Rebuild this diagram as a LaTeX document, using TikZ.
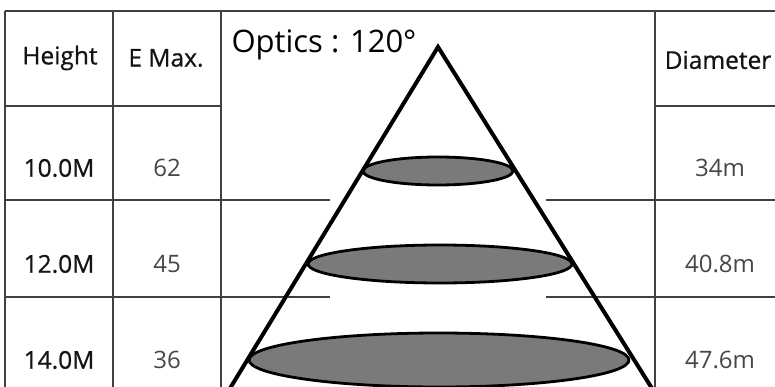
\documentclass[tikz,border=0pt]{standalone}
\usepackage{fontspec}
\setmainfont{Open Sans}
\usepackage{tikz}
\usetikzlibrary{positioning}

\begin{document}
\begin{tikzpicture}[
    x=1pt, y=-1pt,
    gridline/.style={draw=black!75, line width=1.3pt},
    beam/.style={draw=black, line width=4pt, line join=miter},
    spot/.style={draw=black, line width=2.8pt, fill=black!52},
    hdr/.style={font=\fontsize{24.5}{27}\selectfont\addfontfeature{FakeBold=0.8}, text=black!92},
    val/.style={font=\fontsize{24}{27}\selectfont, text=black!72}
]
\useasboundingbox (0,0) rectangle (775,387);
\clip (0,0) rectangle (775,387);

% table
\draw[gridline] (5,11) -- (775,11);
\draw[gridline] (5,11) -- (5,387);
\draw[gridline] (113,11) -- (113,387);
\draw[gridline] (221,11) -- (221,387);
\draw[gridline] (655,11) -- (655,387);
\draw[gridline] (5,106) -- (221,106);
\draw[gridline] (655,106) -- (775,106);
\draw[gridline] (5,200) -- (330,200);
\draw[gridline] (546,200) -- (775,200);
\draw[gridline] (5,297) -- (330,297);
\draw[gridline] (546,297) -- (775,297);

% header
\node[hdr] (height) at (60,58) {Height};
\node[hdr] (emax) at (166,58) {E Max.};
\node[hdr] (diam) at (718,60) {Diameter};
\node[font=\fontsize{31}{34}\selectfont, anchor=base west] (optics) at (228,53) {Optics : 120°};

% rows
\node[hdr] (h1) at (59,168) {10.0M};
\node[val] (e1) at (167,168) {62};
\node[val] (d1) at (720,168) {34m};
\node[hdr] (h2) at (59,264) {12.0M};
\node[val] (e2) at (167,264) {45};
\node[val] (d2) at (720,264) {40.8m};
\node[hdr] (h3) at (59,360) {14.0M};
\node[val] (e3) at (167,360) {36};
\node[val] (d3) at (720,360) {47.6m};

% light cone
\draw[spot] (438,171) ellipse [x radius=75, y radius=14];
\draw[spot] (440,264) ellipse [x radius=132, y radius=19];
\draw[spot] (439,360) ellipse [x radius=190, y radius=27];
\coordinate (apex) at (438,47);
\coordinate (bl) at (229,390);
\coordinate (br) at (653,390);
\draw[beam] (bl) -- (apex) -- (br);
\end{tikzpicture}
\end{document}
